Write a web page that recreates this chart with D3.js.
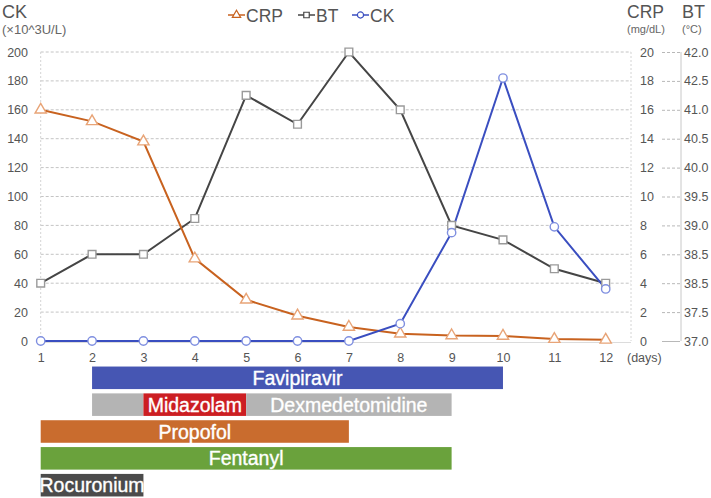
<!DOCTYPE html>
<html>
<head>
<meta charset="utf-8">
<script src="https://cdn.jsdelivr.net/npm/d3@7"></script>
<style>
  body { margin: 0; background: #fff; }
  svg { font-family: "Liberation Sans", Arial, sans-serif; }
  .tick-label { fill: #555; font-size: 12.5px; }
  .bar-label { fill: #fff; font-size: 19.5px; stroke: #fff; stroke-width: 0.35px; }
</style>
</head>
<body>
<svg width="711" height="498"></svg>
<script>
const width = 711;
const height = 498;

// data
const days = [1, 2, 3, 4, 5, 6, 7, 8, 9, 10, 11, 12];
const crp = [16, 15.2, 13.8, 5.7, 2.85, 1.75, 0.97, 0.5, 0.38, 0.35, 0.13, 0.08];          // mg/dL
const bt = [38.0, 38.5, 38.5, 39.12, 41.25, 40.75, 42.0, 41.0, 39.0, 38.75, 38.25, 38.0];   // deg C
const ck = [0, 0, 0, 0, 0, 0, 0, 12, 75, 182, 79, 36];                                      // x10^3 U/L

const ckTicks = [0, 20, 40, 60, 80, 100, 120, 140, 160, 180, 200];
const crpTicks = [0, 2, 4, 6, 8, 10, 12, 14, 16, 18, 20];
const btTicks = [37, 37.5, 38, 38.5, 39, 39.5, 40, 40.5, 41, 41.5, 42];
const btTickLabels = ['37.0', '37.5', '38.5', '38.5', '39.0', '39.5', '40.0', '40.5', '41.0', '42.5', '42.0'];

const rows = ['Favipiravir', 'Sedation', 'Propofol', 'Fentanyl', 'Rocuronium'];
const treatments = [
    { drug: 'Favipiravir', row: 'Favipiravir', from: 2, to: 10, label: true },
    { drug: 'Dexmedetomidine', row: 'Sedation', from: 2, to: 3, label: false },
    { drug: 'Midazolam', row: 'Sedation', from: 3, to: 5, label: true },
    { drug: 'Dexmedetomidine', row: 'Sedation', from: 5, to: 9, label: true },
    { drug: 'Propofol', row: 'Propofol', from: 1, to: 7, label: true },
    { drug: 'Fentanyl', row: 'Fentanyl', from: 1, to: 9, label: true },
    { drug: 'Rocuronium', row: 'Rocuronium', from: 1, to: 3, label: true }
];

const drugColor = {
    Favipiravir: '#4656b3',
    Dexmedetomidine: '#b4b4b4',
    Midazolam: '#cc1e22',
    Propofol: '#c96c2e',
    Fentanyl: '#6aa23c',
    Rocuronium: '#4b4b4b'
};

const svg = d3.select('svg');

const xScale = d3.scaleLinear().domain([1, 12]).range([40.7, 605.7]);
const yCK = d3.scaleLinear().domain([0, 200]).range([341, 52]);
const yCRP = d3.scaleLinear().domain([0, 20]).range([341, 52]);
const yBT = d3.scaleLinear().domain([37, 42]).range([341, 52]);
const rowScale = d3.scaleBand().domain(rows).range([366, 497]).paddingInner(0.16).paddingOuter(0.02);

const gridRight = 631;

// grid lines
svg.append('g').selectAll('line')
    .data(ckTicks.filter(d => d > 0))
    .enter().append('line')
    .attr('x1', xScale(1)).attr('x2', gridRight)
    .attr('y1', d => yCK(d)).attr('y2', d => yCK(d))
    .attr('stroke', '#c4c4c4')
    .attr('stroke-dasharray', '3,2');

svg.append('line')
    .attr('x1', xScale(1)).attr('x2', gridRight)
    .attr('y1', yCK(0) + 1.5).attr('y2', yCK(0) + 1.5)
    .attr('stroke', '#dcdcdc');

[xScale(1), gridRight].forEach(x => {
    svg.append('line')
        .attr('x1', x).attr('x2', x)
        .attr('y1', yCK(200)).attr('y2', yCK(0))
        .attr('stroke', '#d4d4d4')
        .attr('stroke-dasharray', '2,2');
});

// left axis (CK)
const leftAxis = svg.append('g')
    .attr('transform', 'translate(' + 28 + ',0)')
    .call(d3.axisLeft(yCK).tickValues(ckTicks).tickSize(0).tickPadding(0));
leftAxis.select('.domain').remove();
leftAxis.selectAll('text').attr('class', 'tick-label').attr('font-family', null).attr('font-size', null);

// right axis (CRP)
const crpAxis = svg.append('g')
    .attr('transform', 'translate(' + 640 + ',0)')
    .call(d3.axisRight(yCRP).tickValues(crpTicks).tickSize(0).tickPadding(0));
crpAxis.select('.domain').remove();
crpAxis.selectAll('text').attr('class', 'tick-label').attr('font-family', null).attr('font-size', null);

// BT axis
svg.append('line')
    .attr('x1', 681).attr('x2', 681)
    .attr('y1', yBT(42)).attr('y2', yBT(37))
    .attr('stroke', '#c8c8c8');
const btAxis = svg.append('g')
    .attr('transform', 'translate(' + 681 + ',0)')
    .call(d3.axisRight(yBT).tickValues(btTicks).tickSize(0).tickPadding(3)
        .tickFormat((d, i) => btTickLabels[i]));
btAxis.select('.domain').remove();
btAxis.selectAll('text').attr('class', 'tick-label').attr('font-family', null).attr('font-size', null);
btAxis.selectAll('.tick').append('line')
    .attr('x1', -19).attr('x2', -1)
    .attr('stroke', '#b8b8b8')
    .attr('stroke-dasharray', (d, i) => i === 0 ? null : '3,2');

// x axis
const xAxis = svg.append('g')
    .attr('transform', 'translate(0,' + 353 + ')')
    .call(d3.axisBottom(xScale).tickValues(days).tickSize(0).tickPadding(0));
xAxis.select('.domain').remove();
xAxis.selectAll('text').attr('class', 'tick-label').attr('font-family', null).attr('font-size', null)
    .attr('fill', '#666');
svg.append('text')
    .attr('class', 'tick-label')
    .attr('x', 627).attr('y', 362)
    .text('(days)');

// axis titles
svg.append('text').attr('x', 2).attr('y', 18).attr('fill', '#555').attr('font-size', 18).text('CK');
svg.append('text').attr('x', 2).attr('y', 34).attr('fill', '#666').attr('font-size', 13).text('(×10^3U/L)');
svg.append('text').attr('x', 627).attr('y', 18).attr('fill', '#555').attr('font-size', 17.5).text('CRP');
svg.append('text').attr('x', 627).attr('y', 33).attr('fill', '#666').attr('font-size', 11).text('(mg/dL)');
svg.append('text').attr('x', 682).attr('y', 18).attr('fill', '#555').attr('font-size', 18).text('BT');
svg.append('text').attr('x', 682).attr('y', 33).attr('fill', '#666').attr('font-size', 11).text('(°C)');

// series
const series = [
    { name: 'CRP', values: crp, y: yCRP, line: '#c8621f', marker: '#e8a477', symbol: d3.symbolTriangle, size: 55 },
    { name: 'BT', values: bt, y: yBT, line: '#454545', marker: '#9a9a9a', symbol: d3.symbolSquare, size: 60 },
    { name: 'CK', values: ck, y: yCK, line: '#3a4ec0', marker: '#7f8fe0', symbol: d3.symbolCircle, size: 55 }
];

const drawOrder = [series[1], series[0], series[2]];
drawOrder.forEach(s => {
    const line = d3.line()
        .x((d, i) => xScale(days[i]))
        .y(d => s.y(d));
    svg.append('path')
        .datum(s.values)
        .attr('d', line)
        .attr('fill', 'none')
        .attr('stroke', s.line)
        .attr('stroke-width', 2);
});
drawOrder.forEach(s => {
    svg.append('g').selectAll('path')
        .data(s.values)
        .enter().append('path')
        .attr('d', d3.symbol().type(s.symbol).size(s.size))
        .attr('transform', (d, i) => 'translate(' + xScale(days[i]) + ',' + s.y(d) + ')')
        .attr('fill', '#fff')
        .attr('stroke', s.marker)
        .attr('stroke-width', 1.4);
});

// legend
const legendX = [228, 298, 352];
const legend = svg.append('g');
series.forEach((s, i) => {
    const g = legend.append('g').attr('transform', 'translate(' + legendX[i] + ',' + 15 + ')');
    g.append('line').attr('x1', 0).attr('x2', 17).attr('stroke', s.line).attr('stroke-width', 1.5);
    g.append('path')
        .attr('d', d3.symbol().type(s.symbol).size(30))
        .attr('transform', 'translate(8.5,0)')
        .attr('fill', '#fff')
        .attr('stroke', s.line)
        .attr('stroke-width', 1.2);
    g.append('text')
        .attr('x', 18).attr('y', 6.5)
        .attr('fill', '#555')
        .attr('font-size', 17.5)
        .text(s.name);
});

// treatment bars
svg.append('g').selectAll('rect')
    .data(treatments)
    .enter().append('rect')
    .attr('x', d => xScale(d.from))
    .attr('y', d => rowScale(d.row))
    .attr('width', d => xScale(d.to) - xScale(d.from))
    .attr('height', rowScale.bandwidth())
    .attr('fill', d => drugColor[d.drug]);

svg.append('g').selectAll('text')
    .data(treatments.filter(d => d.label))
    .enter().append('text')
    .attr('class', 'bar-label')
    .attr('x', d => (xScale(d.from) + xScale(d.to)) / 2)
    .attr('y', d => rowScale(d.row) + rowScale.bandwidth() / 2 + 7)
    .attr('text-anchor', 'middle')
    .text(d => d.drug);
</script>
</body>
</html>
